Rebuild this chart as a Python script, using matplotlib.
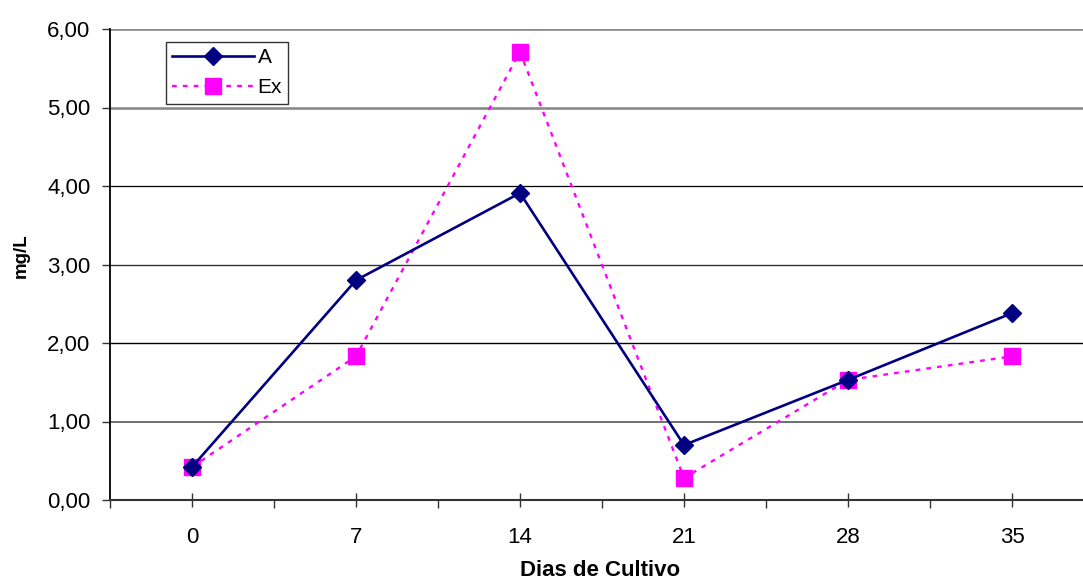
import matplotlib
matplotlib.use("Agg")
import matplotlib.pyplot as plt
from matplotlib.ticker import FixedLocator, FuncFormatter

plt.rcParams['font.family'] = ['Liberation Sans', 'DejaVu Sans']

# Days of culture and measured concentrations (mg/L)
dias = ["0", "7", "14", "21", "28", "35"]
serie_a = [0.42, 2.80, 3.91, 0.70, 1.53, 2.38]
serie_ex = [0.42, 1.83, 5.71, 0.28, 1.53, 1.83]
y_ticks = [0, 1, 2, 3, 4, 5, 6]

W, H = 1083, 581
fig = plt.figure(figsize=(W / 100, H / 100), dpi=100)
left, right, top, bottom = 110, 1094, 29, 500
ax = fig.add_axes([left / W, 1 - bottom / H, (right - left) / W, (bottom - top) / H])

x = list(range(len(dias)))
ax.plot(x, serie_a, color='#000080', lw=1.9, marker='D', markersize=9,
        markerfacecolor='#000080', markeredgecolor='#000080', label='A', zorder=4)
ax.plot(x, serie_ex, color='#FF00FF', lw=1.7, ls=(0, (2.0, 2.6)), marker='s', markersize=11.5,
        markerfacecolor='#FF00FF', markeredgecolor='#FF00FF', label='Ex', zorder=3)

ax.set_xlim(-0.5, len(dias) - 0.5)
ax.set_ylim(0, 6)

ax.xaxis.set_major_locator(FixedLocator(x))
ax.xaxis.set_minor_locator(FixedLocator([i - 0.5 for i in range(len(dias) + 1)]))
ax.set_xticklabels(dias)
ax.yaxis.set_major_locator(FixedLocator(y_ticks))
ax.yaxis.set_major_formatter(FuncFormatter(lambda v, p: f"{v:.2f}".replace('.', ',')))

ax.tick_params(axis='x', which='major', direction='inout', length=10, width=1, pad=14.5,
               labelsize=16, color='#333333')
ax.tick_params(axis='x', which='minor', direction='out', length=6, width=1, color='#333333')
ax.tick_params(axis='y', which='major', direction='out', length=6, width=1, pad=8,
               labelsize=16, color='#333333')

ax.grid(axis='y', color='#555555', lw=1.1)
ax.set_axisbelow(True)
# Horizontal rules: the upper two are softer and heavier, the rest crisp
grid_styles = {6: ('#8a8a8a', 1.9), 5: ('#8a8a8a', 1.9), 4: ('#000000', 0.9),
               3: ('#333333', 1.0), 2: ('#000000', 1.0), 1: ('#555555', 1.2)}
for val, gl in zip(y_ticks, ax.get_ygridlines()):
    if val in grid_styles:
        c, w = grid_styles[val]
        gl.set_color(c)
        gl.set_linewidth(w)

for s in ('top', 'right'):
    ax.spines[s].set_visible(False)
ax.spines['left'].set_color('#000000')
ax.spines['left'].set_linewidth(1.3)
ax.spines['bottom'].set_color('#333333')
ax.spines['bottom'].set_linewidth(1.5)

fig.text(600 / W, 1 - 571 / H, "Dias de Cultivo", ha='center', va='center',
         fontsize=16, fontweight='bold')
fig.text(21 / W, 1 - 256 / H, "mg/L", ha='center', va='center', rotation=90,
         fontsize=13.5, fontweight='bold')

leg = ax.legend(loc='upper left', bbox_to_anchor=(166 / W, 1 - 42 / H),
                bbox_transform=fig.transFigure, borderaxespad=0, fancybox=False,
                frameon=True, edgecolor='#000000', fontsize=15, handlelength=3.95,
                handletextpad=0.15, borderpad=0.29, labelspacing=0.55)
leg.get_frame().set_linewidth(1.0)

fig.savefig("out.png", dpi=100)
